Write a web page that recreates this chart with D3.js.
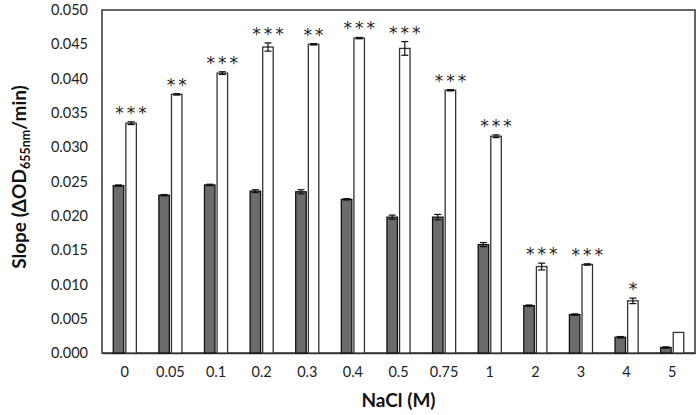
<!DOCTYPE html>
<html><head><meta charset="utf-8">
<script src="https://cdn.jsdelivr.net/npm/d3@7"></script>
<style>body{margin:0;background:#fff}svg{display:block}</style>
</head><body>
<svg id="c" width="700" height="415"></svg>
<script>
const categories = ["0","0.05","0.1","0.2","0.3","0.4","0.5","0.75","1","2","3","4","5"];
const darkValues = [0.0244,0.0230,0.0245,0.0236,0.0235,0.0224,0.0198,0.0198,0.0158,0.0069,0.0056,0.0023,0.0008];
const darkErrors = [0.0001,0.0001,0.0001,0.0002,0.0003,0.0001,0.0003,0.0004,0.0003,0.0001,0.0001,0.0001,0.0001];
const whiteValues = [0.0335,0.0377,0.0408,0.0446,0.0450,0.0459,0.0444,0.0383,0.0316,0.0126,0.0129,0.0076,0.0030];
const whiteErrors = [0.0002,0.0001,0.0002,0.0006,0.0001,0.0001,0.0010,0.0001,0.0002,0.0005,0.0001,0.0004,0.0000];
const stars = ["***","**","***","***","**","***","***","***","***","***","***","*",""];
const yTicks = [0,0.005,0.010,0.015,0.020,0.025,0.030,0.035,0.040,0.045,0.050];

const svg = d3.select("#c");
const m = {l:102, r:695, t:10, b:353};
const x = d3.scaleBand().domain(categories).range([m.l, m.r]);
const y = d3.scaleLinear().domain([0,0.05]).range([m.b, m.t]);
const bw = 10.5, off = 6.3;
const font = "Lato, 'Open Sans', sans-serif";

// frame
svg.append("rect").attr("x",m.l).attr("y",m.t).attr("width",m.r-m.l).attr("height",m.b-m.t)
  .attr("fill","none").attr("stroke","#333").attr("stroke-width",1.5);

// y axis
const ya = svg.append("g").attr("transform",`translate(${m.l},0)`)
  .call(d3.axisLeft(y).tickValues(yTicks).tickFormat(d3.format(".3f")).tickSize(0).tickPadding(14));
ya.select(".domain").remove();
ya.selectAll("text").attr("font-family",font).attr("font-size",14.5).attr("fill","#222");

// x axis
const xa = svg.append("g").attr("transform",`translate(0,${m.b})`)
  .call(d3.axisBottom(x).tickSize(0).tickPadding(14));
xa.select(".domain").attr("stroke","#333").attr("stroke-width",1.5);
xa.selectAll("text").attr("font-family",font).attr("font-size",14.5).attr("fill","#222");

const data = categories.map((c,i)=>({c, dv:darkValues[i], de:darkErrors[i], wv:whiteValues[i], we:whiteErrors[i], s:stars[i]}));

function errBar(g, cx, v, e){
  if(e<=0) return;
  g.append("line").attr("x1",cx).attr("x2",cx).attr("y1",y(v+e)).attr("y2",y(v-e)).attr("stroke","#111").attr("stroke-width",1.2);
  [v+e, v-e].forEach(t=>g.append("line").attr("x1",cx-3.5).attr("x2",cx+3.5).attr("y1",y(t)).attr("y2",y(t)).attr("stroke","#111").attr("stroke-width",1.2));
}

const g = svg.append("g");
data.forEach(d=>{
  const cx = x(d.c) + x.bandwidth()/2;
  const dx = cx - off, wx = cx + off;
  g.append("rect").attr("x",dx-bw/2).attr("y",y(d.dv)).attr("width",bw).attr("height",y(0)-y(d.dv))
    .attr("fill","#6b6b6b").attr("stroke","#111").attr("stroke-width",1.3);
  errBar(g, dx, d.dv, d.de);
  g.append("rect").attr("x",wx-bw/2).attr("y",y(d.wv)).attr("width",bw).attr("height",y(0)-y(d.wv))
    .attr("fill","#fff").attr("stroke","#333").attr("stroke-width",1.3);
  errBar(g, wx, d.wv, d.we);
  if(d.s){
    g.append("text").attr("x",wx+1.5).attr("y",y(d.wv+d.we)-3).attr("text-anchor","middle")
      .attr("font-family","'DejaVu Sans', sans-serif").attr("font-size",17).attr("letter-spacing",3)
      .attr("fill","#222").text(d.s);
  }
});

// axis titles
svg.append("text").attr("x",(m.l+m.r)/2).attr("y",407).attr("text-anchor","middle")
  .attr("font-family",font).attr("font-weight","bold").attr("font-size",19).attr("fill","#111").text("NaCl (M)");

const yt = svg.append("text").attr("transform","translate(26,177) rotate(-90)").attr("text-anchor","middle")
  .attr("font-family",font).attr("font-weight","bold").attr("font-size",19).attr("fill","#111");
yt.append("tspan").text("Slope (ΔOD");
yt.append("tspan").attr("font-size",12.5).attr("dy",4).text("655nm");
yt.append("tspan").attr("dy",-4).text("/min)");
</script>
</body></html>
